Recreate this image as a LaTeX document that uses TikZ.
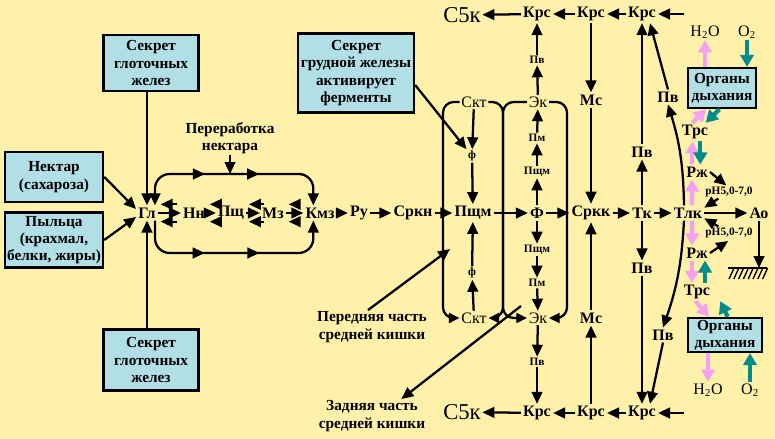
\documentclass[tikz,border=0pt]{standalone}
\usepackage{fontspec}
\setmainfont{Liberation Serif}
\usetikzlibrary{arrows.meta,decorations.markings,positioning}

\definecolor{bgyellow}{RGB}{255,240,170}
\definecolor{boxblue}{RGB}{178,222,230}
\definecolor{pinkarr}{RGB}{245,160,240}
\definecolor{tealarr}{RGB}{0,140,140}

\tikzstyle{lbl}=[font=\bfseries\fontsize{12}{13}\selectfont, inner sep=1.5pt]
\tikzstyle{plain}=[font=\fontsize{12}{13}\selectfont, inner sep=1.2pt]
\tikzstyle{small}=[font=\bfseries\fontsize{8.5}{9}\selectfont, inner sep=1pt]
\tikzstyle{bigc}=[font=\fontsize{17}{18}\selectfont, inner sep=1pt]
\tikzstyle{note}=[font=\bfseries\fontsize{11.5}{13}\selectfont, align=center, inner sep=1pt]
\tikzstyle{info}=[draw, line width=1.8pt, fill=boxblue, align=center, font=\bfseries\fontsize{11.5}{13}\selectfont, inner sep=0pt]
\tikzstyle{edge}=[draw, line width=1.7pt, -{Triangle[length=9pt,width=8pt]}]
\tikzstyle{wall}=[draw, line width=1.7pt, rounded corners=8pt, -{Triangle[length=8pt,width=7.5pt]}]
\tikzstyle{gas}=[line width=3.2pt, -{Triangle[length=9pt,width=10pt]}]
\tikzstyle{midarrows}=[postaction={decorate}, decoration={markings,
    mark=at position 0.36 with {\arrow{Triangle[length=9pt,width=8pt]}},
    mark=at position 0.62 with {\arrow{Triangle[length=9pt,width=8pt]}}}]

\begin{document}
\begin{tikzpicture}[x=0.75pt, y=-0.75pt]
    \fill[bgyellow] (0,0) rectangle (775,439);
    \useasboundingbox (0,0) rectangle (775,439);

    % boxes with inputs
    \node[info, minimum width=71pt, minimum height=42pt] (sekrtop) at (151,63) {Секрет\\глоточных\\желез};
    \node[info, minimum width=71pt, minimum height=46pt] (sekrbot) at (151,360) {Секрет\\глоточных\\желез};
    \node[info, minimum width=73.5pt, minimum height=37.5pt] (nektar) at (54,177) {Нектар\\(сахароза)};
    \node[info, minimum width=73.5pt, minimum height=41pt] (pyl) at (54,240) {Пыльца\\(крахмал,\\белки, жиры)};
    \node[info, minimum width=87pt, minimum height=59pt] (grud) at (356,73) {Секрет\\грудной железы\\активирует\\ферменты};
    \node[info, minimum width=51pt, minimum height=30pt] (orgtop) at (722,88) {Органы\\дыхания};
    \node[info, minimum width=55.5pt, minimum height=25.5pt] (orgbot) at (725,335) {Органы\\дыхания};

    % main chain
    \foreach \pos/\name/\txt in {{(147,213)/gl/Гл}, {(194,213)/nn/Нн}, {(231,213)/pshch/Пщ}, {(273,213)/mz/Мз},
        {(320,213)/kmz/Кмз}, {(359,213)/ru/Ру}, {(413,213)/srkn/Сркн}, {(473,213)/pshchm/Пщм},
        {(537,213)/fbig/Ф}, {(591,213)/srkk/Сркк}, {(642,213)/tk/Тк}, {(688,213)/tlk/Тлк}, {(759,213)/ao/Ао}}
        \node[lbl] (\name) at \pos {\txt};

    % other labels
    \foreach \pos/\name/\txt in {{(537,14)/krsAt/Крс}, {(591,14)/krsBt/Крс}, {(642,14)/krsCt/Крс},
        {(537,413)/krsAb/Крс}, {(591,413)/krsBb/Крс}, {(642,413)/krsCb/Крс},
        {(591,100)/mst/Мс}, {(591,318)/msb/Мс}, {(642,152)/pvt/Пв}, {(642,268)/pvb/Пв},
        {(668,97)/pvct/Пв}, {(663,335)/pvcb/Пв}, {(695,132)/trst/Трс}, {(697,172)/rzht/Рж},
        {(697,253)/rzhb/Рж}, {(697,292)/trsb/Трс}}
        \node[lbl] (\name) at \pos {\txt};
    \foreach \pos/\name/\txt in {{(474,102)/sktt/Скт}, {(538,102)/ekt/Эк}, {(474,318)/sktb/Скт}, {(538,318)/ekb/Эк},
        {(705,32)/howt/H\textsubscript{2}O}, {(747,32)/oxt/O\textsubscript{2}},
        {(708,390)/howb/H\textsubscript{2}O}, {(750,390)/oxb/O\textsubscript{2}}}
        \node[plain] (\name) at \pos {\txt};
    \node[bigc] (sfkt) at (462,15) {С5к};
    \node[bigc] (sfkb) at (462,412) {С5к};
    \foreach \pos/\name/\txt in {{(472,156)/fa/ф}, {(472,273)/fb/ф}, {(537,60)/pvsa/Пв}, {(537,138)/pma/Пм},
        {(537,172)/psma/Пщм}, {(537,250)/psmb/Пщм}, {(537,283)/pmb/Пм}, {(537,362)/pvsb/Пв},
        {(729,192)/pha/pH5,0-7,0}, {(729,233)/phb/pH5,0-7,0}}
        \node[small] (\name) at \pos {\txt};
    \node[note] (pererab) at (230,138) {Переработка\\нектара};
    \node[note] (front) at (372,327) {Передняя часть\\средней кишки};
    \node[note] (back) at (372,416) {Задняя часть\\средней кишки};

    \coordinate (toploop) at (230,174);
    \coordinate (botloop) at (230,253);
    \coordinate (lwall) at (443,213);
    \coordinate (mwall) at (503,213);
    \coordinate (rwall) at (567,213);
    \coordinate (frontpt) at (450,249);
    \coordinate (backpt) at (521,306);
    \coordinate (krsina) at (684,14);
    \coordinate (krsinb) at (684,413);
    \coordinate (gnd) at (759,268);

    % inputs to the pharynx
    \path[edge] (sekrtop.south -| gl.north) -- (gl.north);
    \path[edge] (sekrbot.north -| gl.south) -- (gl.south);
    \path[edge] (nektar.east) -- ([yshift=3pt]gl.west);
    \path[edge] (pyl.east) -- ([yshift=-3pt]gl.west);
    \path[edge] (pererab) -- (toploop);
    \path[edge] ([yshift=-9pt]grud.east) -- (fa.north west);
    \path[edge] ([xshift=-3pt]front.north) -- (frontpt);
    \path[edge] (backpt) -- ([xshift=22pt]back.north);

    % chain
    \foreach \source/\dest in {gl/nn, nn/pshch, pshch/mz, mz/kmz, kmz/ru, ru/srkn, srkn/pshchm,
        pshchm/fbig, fbig/srkk, srkk/tk, tk/tlk, tlk/ao}
        \path[edge] (\source) -- (\dest);
    \foreach \source/\dest in {nn/gl, pshch/nn, mz/pshch, kmz/mz}{
        \path[edge, shorten <=3pt, shorten >=2pt] ([yshift=6.5pt]\source.west) -- ([yshift=6.5pt]\dest.east);
        \path[edge, shorten <=3pt, shorten >=2pt] ([yshift=-6.5pt]\source.west) -- ([yshift=-6.5pt]\dest.east);
    }
    \draw[line width=1.7pt, rounded corners=11pt, {Triangle[length=9pt,width=8pt]}-{Triangle[length=9pt,width=8pt]}, midarrows]
        ([xshift=6pt]gl.north) |- (toploop) -| ([xshift=-5pt]kmz.north);
    \draw[line width=1.7pt, rounded corners=11pt, -{Triangle[length=9pt,width=8pt]}, midarrows]
        ([xshift=6pt]gl.south) |- (botloop) -| ([xshift=-5pt]kmz.south);

    % midgut
    \path[wall] (sktt.west) -| (lwall) |- (sktb.west);
    \path[wall] (sktt.east) -| (mwall) |- (sktb.east);
    \path[wall] (ekt.west) -| (mwall) |- (ekb.west);
    \path[wall] (ekt.east) -| (rwall) |- (ekb.east);

    % vertical flows and blood
    \foreach \source/\dest in {krsBt/mst, mst/srkk, krsBb/msb, msb/srkk, tk/pvt, pvt/krsCt, tk/pvb, pvb/krsCb,
        ekt/pvsa, pvsa/krsAt, fbig/psma, psma/pma, pma/ekt, fbig/psmb, psmb/pmb, pmb/ekb, ekb/pvsb, pvsb/krsAb,
        sktt/fa, fa/pshchm, sktb/fb, fb/pshchm, krsCt/krsBt, krsBt/krsAt, krsAt/sfkt,
        krsCb/krsBb, krsBb/krsAb, krsAb/sfkb, krsina/krsCt, krsinb/krsCb}
        \path[edge] (\source) -- (\dest);
    \path[edge] ([xshift=-3pt]tlk.north) to[bend right=8] (pvct.south);
    \path[edge] ([xshift=-3pt]tlk.south) to[bend left=8] (pvcb.north);
    \path[edge] (pvct.north) -- ([xshift=6pt]krsCt.south);
    \path[edge] (pvcb.south) -- ([xshift=6pt]krsCb.north);

    % rectum and ground
    \path[edge] (ao) -- (gnd);
    \draw[line width=1.4pt] (728,268) -- (767,268);
    \foreach \i in {0,...,7}
        \draw[line width=1pt] (734+\i*4.8,268) -- ++(-5,11);

    % pH
    \path[edge] (rzht.east) -- ([xshift=-2pt]pha.north);
    \path[edge] ([xshift=-8pt]pha.south) -- ([yshift=4pt]tlk.east);
    \path[edge] ([xshift=-8pt]phb.north) -- ([yshift=-4pt]tlk.east);
    \path[edge, shorten >=2pt] (rzhb.east) -- ([xshift=1pt]phb.south);

    % respiration
    \draw[gas, pinkarr] (orgtop.north -| howt) -- (howt.south);
    \draw[gas, tealarr] (oxt.south) -- (orgtop.north -| oxt);
    \draw[gas, pinkarr] ([xshift=-2pt]trst.north) -- ([xshift=-12pt]orgtop.south);
    \draw[gas, tealarr] ([xshift=-2pt]orgtop.south) -- ([xshift=8pt]trst.north);
    \draw[gas, pinkarr] ([xshift=-3.5pt]rzht.north) -- ([xshift=-2pt]trst.south);
    \draw[gas, tealarr] ([xshift=4pt]trst.south) -- ([xshift=2.5pt]rzht.north);
    \draw[gas, pinkarr] ([xshift=3pt]tlk.north) -- ([xshift=-3.7pt]rzht.south);
    \draw[gas, pinkarr] ([xshift=3pt]tlk.south) -- ([xshift=-3.7pt]rzhb.north);
    \draw[gas, pinkarr] ([xshift=-3.7pt]rzhb.south) -- ([xshift=-3.7pt]trsb.north);
    \draw[gas, tealarr] ([xshift=6pt]trsb.north) -- ([xshift=6pt]rzhb.south);
    \draw[gas, pinkarr] ([xshift=-1pt]trsb.south) -- ([xshift=-12pt]orgbot.north);
    \draw[gas, tealarr] ([xshift=2pt]orgbot.north) -- ([xshift=6pt]trsb.south east);
    \draw[gas, pinkarr] (orgbot.south -| howb) -- (howb.north);
    \draw[gas, tealarr] (oxb.north) -- (orgbot.south -| oxb);
\end{tikzpicture}
\end{document}
